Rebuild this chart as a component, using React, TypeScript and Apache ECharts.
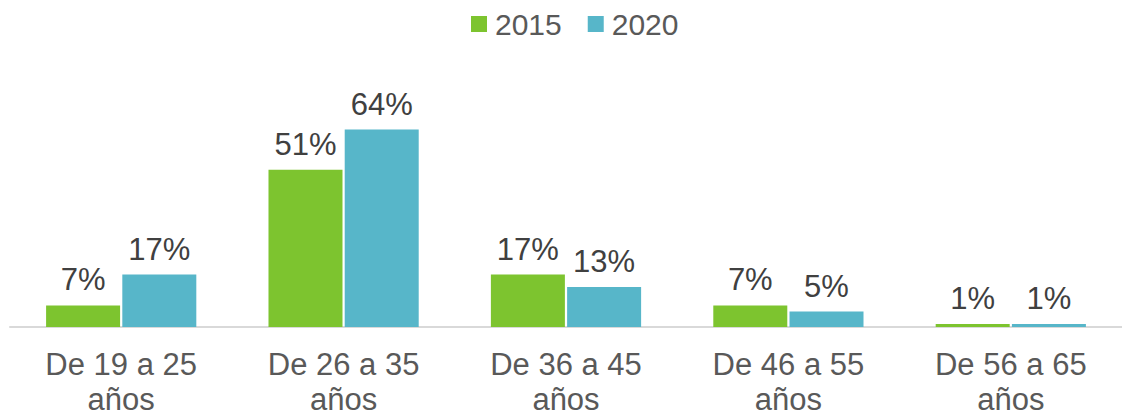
import React, { useEffect, useRef } from "react";
import * as echarts from "echarts";

const categories = [
  "De 19 a 25\naños",
  "De 26 a 35\naños",
  "De 36 a 45\naños",
  "De 46 a 55\naños",
  "De 56 a 65\naños",
];
const seriesNames = ["2015", "2020"];
const values2015 = [7, 51, 17, 7, 1];
const values2020 = [17, 64, 13, 5, 1];
const colors = ["#7DC42F", "#57B6C9"];

export default function App() {
  const ref = useRef<HTMLDivElement>(null);
  useEffect(() => {
    if (!ref.current) return;
    const chart = echarts.init(ref.current, null, { renderer: "svg" });
    const font = "'Liberation Sans', Arial, sans-serif";
    const mkSeries = (name: string, data: number[], color: string) => ({
      name,
      type: "bar",
      data,
      barWidth: 74,
      barGap: "3%",
      itemStyle: { color },
      label: {
        show: true,
        position: "top",
        distance: 10,
        formatter: "{c}%",
        fontSize: 31,
        fontFamily: font,
        color: "#404040",
      },
    });
    chart.setOption({
      animation: false,
      legend: {
        data: seriesNames,
        top: 9,
        left: 471,
        padding: 0,
        itemWidth: 16,
        itemHeight: 16,
        itemGap: 26,
        icon: "rect",
        textStyle: { fontSize: 30, fontFamily: font, color: "#595959", padding: [0, 0, 0, 3] },
      },
      grid: { left: 10, width: 1121, top: 111, height: 216, containLabel: false },
      xAxis: {
        type: "category",
        data: categories,
        axisLine: { lineStyle: { color: "#D9D9D9", width: 2 } },
        axisTick: { show: false },
        axisLabel: {
          fontSize: 31,
          fontFamily: font,
          color: "#595959",
          lineHeight: 35,
          margin: 20,
          interval: 0,
        },
      },
      yAxis: {
        type: "value",
        min: 0,
        max: 70,
        show: false,
        splitLine: { show: false },
      },
      series: [
        mkSeries(seriesNames[0], values2015, colors[0]),
        mkSeries(seriesNames[1], values2020, colors[1]),
      ],
    });
    return () => chart.dispose();
  }, []);
  return (
    <div
      ref={ref}
      style={{ position: "absolute", left: 0, top: 0, width: 1122, height: 418, overflow: "hidden" }}
    />
  );
}
